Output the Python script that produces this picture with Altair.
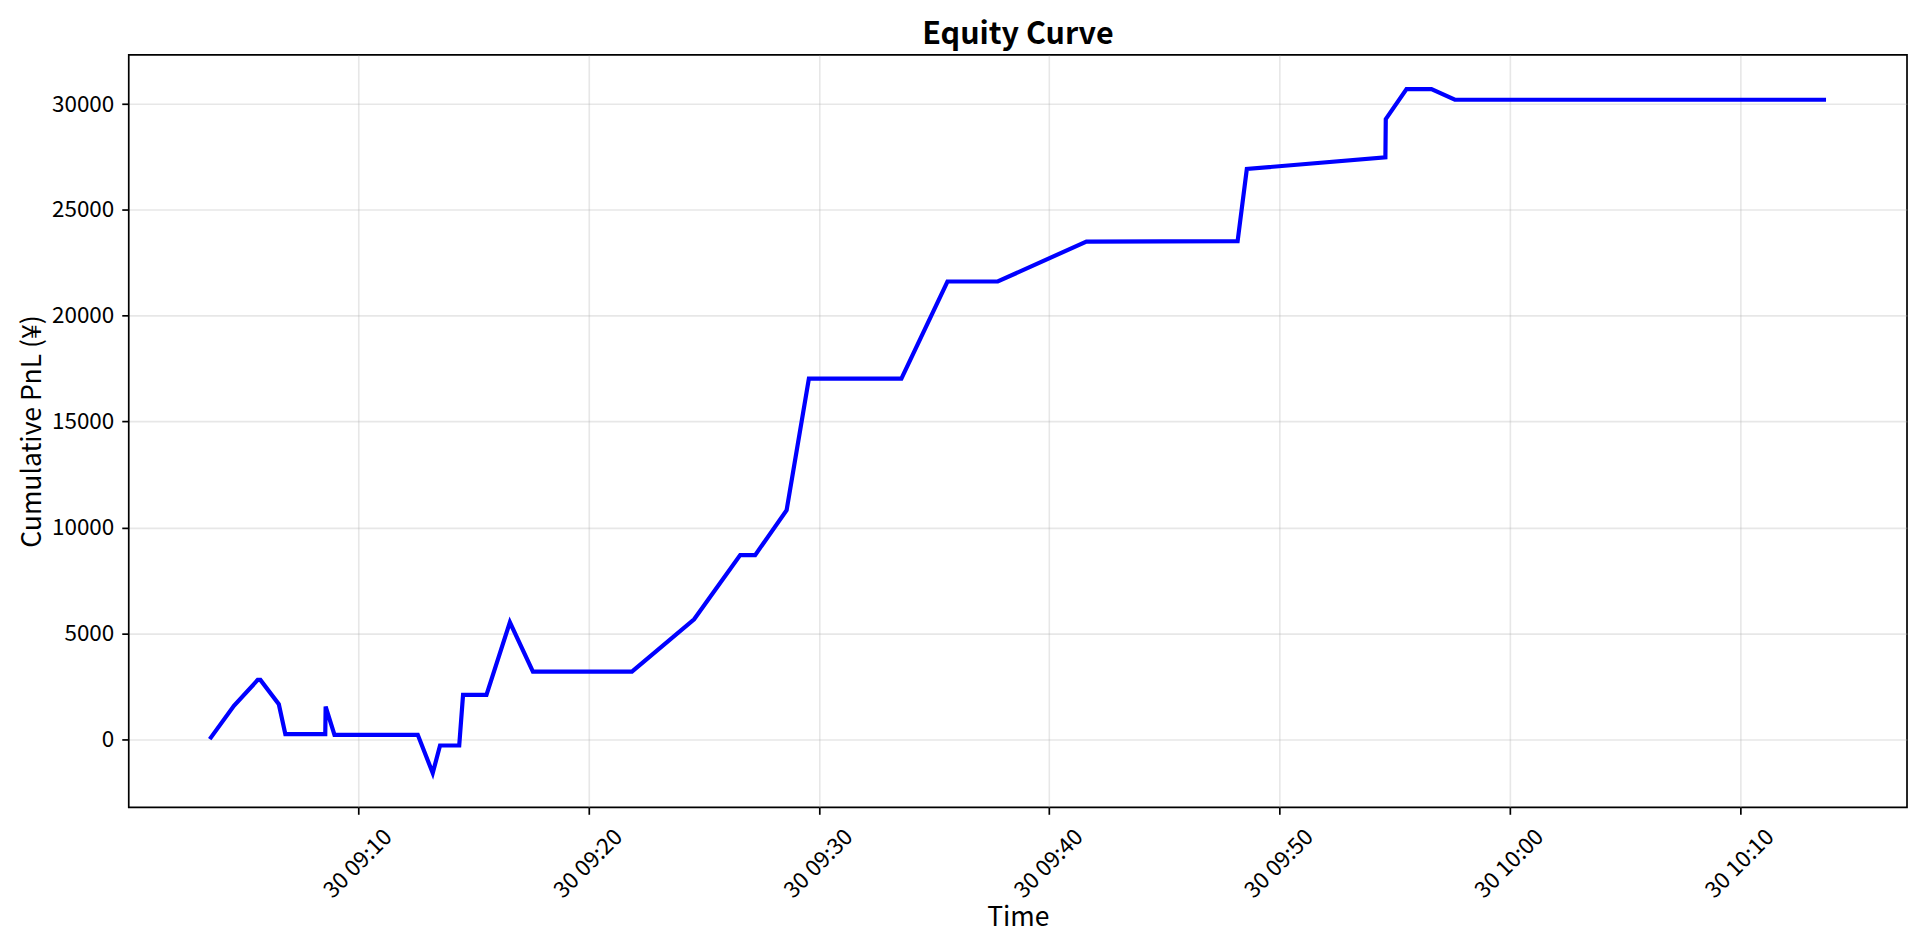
import altair as alt
import pandas as pd

# trade timestamps (day 30) and cumulative PnL
times = [
    "09:03:33", "09:04:36", "09:05:38", "09:05:45", "09:06:33", "09:06:50",
    "09:08:34", "09:08:35", "09:08:58", "09:12:35", "09:13:14", "09:13:33",
    "09:14:23", "09:14:33", "09:15:34", "09:16:35", "09:17:35", "09:21:53",
    "09:24:35", "09:26:35", "09:27:14", "09:28:36", "09:29:34", "09:33:35",
    "09:35:35", "09:37:46", "09:41:37", "09:48:11", "09:48:35", "09:54:36",
    "09:54:37", "09:55:31", "09:56:36", "09:57:37", "10:13:44",
]
pnl = [
    0, 1571, 2797, 2797, 1650, 236,
    236, 1538, 203, 203, -1604, -300,
    -300, 2090, 2090, 5519, 3189, 3189,
    5660, 8693, 8693, 10816, 17028, 17028,
    21617, 21617, 23505, 23522, 26934, 27484,
    29292, 30707, 30707, 30203, 30203,
]
x_ticks = ["09:10", "09:20", "09:30", "09:40", "09:50", "10:00", "10:10"]
y_ticks = [0, 5000, 10000, 15000, 20000, 25000, 30000]
x_limits = ["09:00:02", "10:17:15"]


def ms(hms):
    return int(pd.Timestamp("2024-05-30 " + hms, tz="UTC").value // 10**6)


df = pd.DataFrame({
    "time": [ms(t) for t in times],
    "pnl": pnl,
    "idx": range(len(times)),
})

fonte = "Noto Sans CJK JP"

chart = alt.Chart(df).mark_line(color="#0000ff", strokeWidth=4.2).encode(
    x=alt.X("time:T", title="Time",
            scale=alt.Scale(type="utc", domain=[ms(t) for t in x_limits], nice=False),
            axis=alt.Axis(format="%d %H:%M", values=[ms(t) for t in x_ticks],
                          labelAngle=-45, labelAlign="right", labelBaseline="top",
                          labelOffset=22, labelPadding=11, labelOverlap=False,
                          labelFlush=False, titleY=110, titleBaseline="middle")),
    y=alt.Y("pnl:Q", title="Cumulative PnL (¥)",
            scale=alt.Scale(domain=[-3220, 32323], nice=False, zero=False),
            axis=alt.Axis(values=y_ticks, format="d", labelPadding=8, titlePadding=5)),
    order="idx:Q",
).properties(
    width=1782, height=754,
    title=alt.TitleParams("Equity Curve", fontSize=30.5, fontWeight="bold",
                          anchor="middle", offset=4,
                          font=fonte, color="black"),
    autosize=alt.AutoSizeParams(type="none"),
    padding={"left": 121, "top": 46, "right": 5, "bottom": 130},
).configure_view(
    stroke="black", strokeWidth=1.7
).configure_axis(
    domain=False, grid=True, gridColor="#b0b0b0", gridOpacity=0.3, gridWidth=1.6,
    ticks=True, tickColor="black", tickWidth=1.7, tickSize=7,
    labelFont=fonte, labelFontSize=22.5, labelColor="black",
    titleFont=fonte, titleFontSize=26.5, titleFontWeight="normal", titleColor="black",
)

chart.save("out.html", embed_options={"renderer": "svg", "actions": False})
